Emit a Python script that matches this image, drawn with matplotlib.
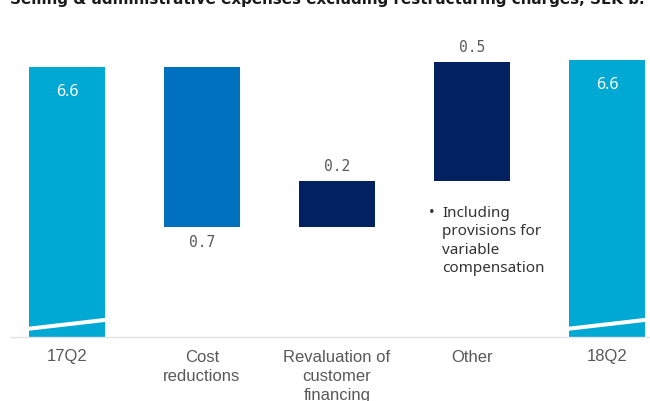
import matplotlib
matplotlib.use("Agg")
import matplotlib.pyplot as plt

categories = ["17Q2", "Cost\nreductions", "Revaluation of\ncustomer\nfinancing", "Other", "18Q2"]
start_value = 6.60
changes = [-0.70, 0.20, 0.52]
end_value = 6.63
title = "Selling & administrative expenses excluding restructuring charges, SEK b."
note = "Including\nprovisions for\nvariable\ncompensation"

cyan = "#00a8d4"
mid_blue = "#0071bf"
navy = "#012160"

fig = plt.figure(figsize=(6.5, 4.01), dpi=100)
ax = fig.add_axes([10 / 650, 64 / 401, 640 / 650, 337 / 401])

ylo = 5.419
yhi = 6.893
width = 0.563

# totals
bottoms = [ylo]
heights = [start_value - ylo]
colors = [cyan]
level = start_value
for d in changes:
    if d < 0:
        bottoms.append(level + d)
    else:
        bottoms.append(level)
    heights.append(abs(d))
    colors.append(mid_blue if d < 0 else navy)
    level += d
bottoms.append(ylo)
heights.append(end_value - ylo)
colors.append(cyan)

x = list(range(len(categories)))
ax.bar(x, heights, bottom=bottoms, width=width, color=colors, zorder=2)

# value labels
for i in [0, len(x) - 1]:
    top = bottoms[i] + heights[i]
    ax.annotate(f"{top:.1f}", (x[i], top), xytext=(0, -18), textcoords="offset points",
                ha="center", va="center", color="white", fontsize=11.5, family="Noto Sans")
for i, d in enumerate(changes, start=1):
    if d < 0:
        y, off = bottoms[i], -11
    else:
        y, off = bottoms[i] + heights[i], 11
    ax.annotate(f"{abs(d):.1f}", (x[i], y), xytext=(0, off), textcoords="offset points",
                ha="center", va="center", color="#5a5a5a", fontsize=10.5, family="DejaVu Sans Mono")

# axis break stripes on the total bars
for i in [0, len(x) - 1]:
    ax.plot([x[i] - width / 2 - 0.02, x[i] + width / 2 + 0.02], [ylo + 0.035, ylo + 0.076],
            color="white", lw=2.9, solid_capstyle="butt", zorder=3)

ax.set_xlim(-57 / 135, 4 + 43 / 135)
ax.set_ylim(ylo, yhi)
ax.set_xticks(x)
ax.set_xticklabels(categories, fontsize=12, color="#595959", family="Liberation Sans",
                   linespacing=1.35, va="top")
ax.tick_params(axis="x", length=0, pad=9)
ax.set_yticks([])
for s in ["top", "left", "right"]:
    ax.spines[s].set_visible(False)
ax.spines["bottom"].set_color("#e4e4e4")
ax.spines["bottom"].set_linewidth(1)

# note under "Other"
fig.text(429 / 650, 1 - 214 / 401, "\u2022", fontsize=11, color="#333333", family="Noto Sans",
         ha="left", va="center")
fig.text(442 / 650, 1 - 206 / 401, note, fontsize=11, color="#333333", family="Noto Sans",
         ha="left", va="top", linespacing=1.3)

fig.text(10 / 650, 1 - 4 / 401, title, fontsize=10.9, fontweight="bold", color="#1a1a1a",
         family="DejaVu Sans", ha="left", va="baseline")

fig.savefig("out.png", dpi=100)
